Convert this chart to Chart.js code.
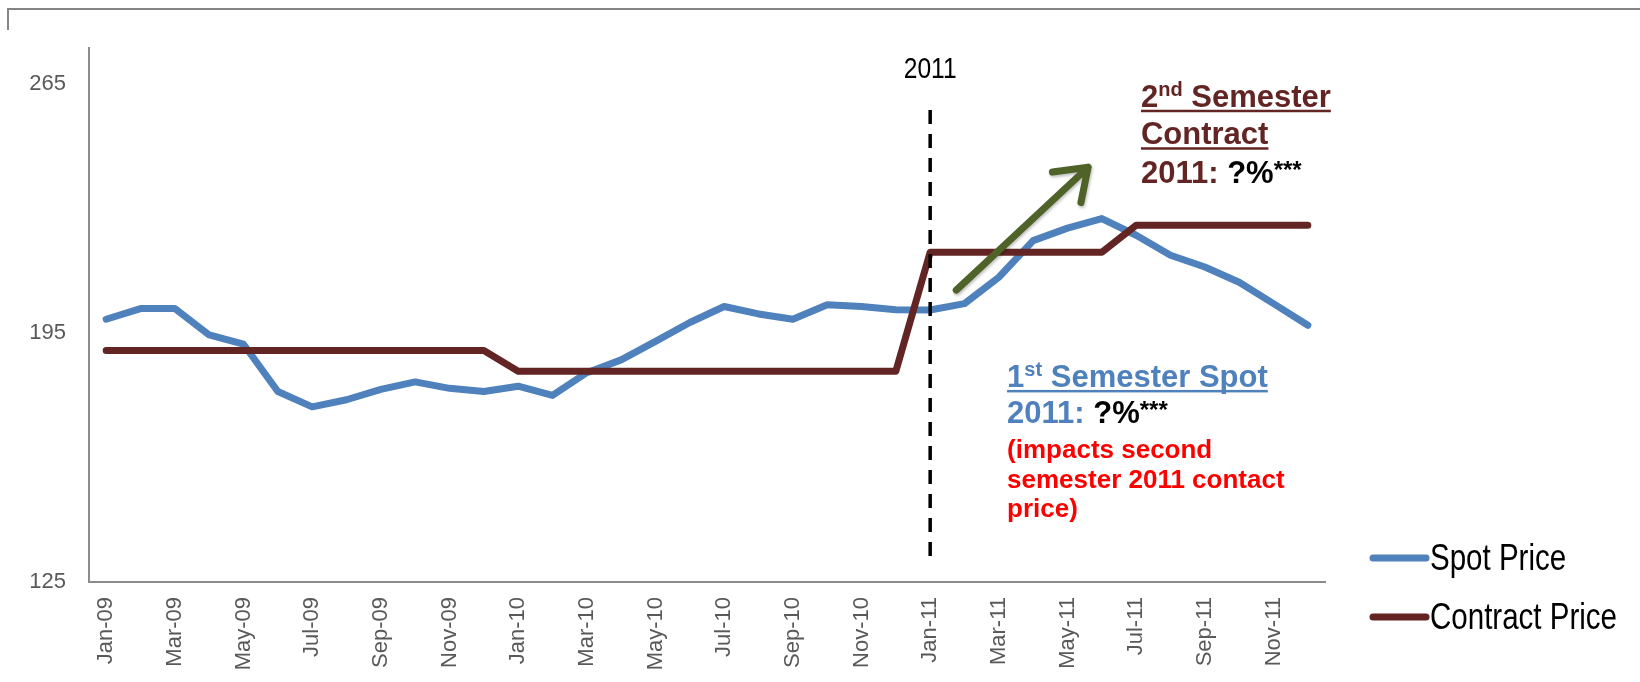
<!DOCTYPE html>
<html>
<head>
  <meta charset="utf-8">
  <title>Spot vs Contract Price</title>
  <script src="https://cdn.jsdelivr.net/npm/chart.js"></script>
  <style>
    body { margin: 0; background: #fff; }
    #wrap { position: relative; width: 1640px; height: 682px; }
    #frame { position: absolute; left: 7px; top: 8px; width: 1640px; height: 20px;
             border-top: 2px solid #858585; border-left: 2px solid #858585; }
    canvas { position: absolute; left: 0; top: 0; }
  </style>
</head>
<body>
<div id="wrap">
  <div id="frame"></div>
  <canvas id="priceChart" width="1640" height="682"></canvas>
</div>

<script>
const months = [
  "Jan-09", "Feb-09", "Mar-09", "Apr-09", "May-09", "Jun-09", "Jul-09", "Aug-09", "Sep-09", "Oct-09", "Nov-09", "Dec-09",
  "Jan-10", "Feb-10", "Mar-10", "Apr-10", "May-10", "Jun-10", "Jul-10", "Aug-10", "Sep-10", "Oct-10", "Nov-10", "Dec-10",
  "Jan-11", "Feb-11", "Mar-11", "Apr-11", "May-11", "Jun-11", "Jul-11", "Aug-11", "Sep-11", "Oct-11", "Nov-11", "Dec-11"
];
const spotPrice = [
  198.8, 201.8, 201.8, 194.4, 191.8, 178.5, 174.2, 176.2, 179.1, 181.2, 179.4, 178.5,
  180.0, 177.4, 183.8, 187.4, 192.6, 197.9, 202.4, 200.3, 198.8, 202.9, 202.4, 201.5,
  201.4, 203.2, 210.6, 220.9, 224.4, 227.1, 222.4, 216.8, 213.5, 209.2, 203.2, 197.1
];
const contractPrice = [
  190, 190, 190, 190, 190, 190, 190, 190, 190, 190, 190, 190,
  184.2, 184.2, 184.2, 184.2, 184.2, 184.2, 184.2, 184.2, 184.2, 184.2, 184.2, 184.2,
  217.6, 217.6, 217.6, 217.6, 217.6, 217.6, 225.2, 225.2, 225.2, 225.2, 225.2, 225.2
];
const yTicks = [125, 195, 265];

// annotation anchors: [category index, value]
const yearMark = { label: "2011", index: 24, top: 257.6, bottom: 129.5, labelAt: 266.6 };
const arrowFrom = [24.76, 207.0];
const arrowTo = [28.6, 241.5];
const contractNoteAt = [30.14, 258.5];
const spotNoteAt = [26.24, 179.8];

const BLUE = "#4F81BD", DARK = "#632523", GREEN = "#4F6228";
const SANS = '"Liberation Sans", Arial, sans-serif';
const NARROW = 0.82; // squeeze factor to imitate a narrow face

function drawRuns(ctx, runs, x, y, underline) {
  let cx = x;
  runs.forEach(r => {
    ctx.font = "bold " + r.size + "px " + SANS;
    ctx.fillStyle = r.color;
    ctx.fillText(r.text, cx, y + (r.dy || 0));
    cx += ctx.measureText(r.text).width;
  });
  if (underline) {
    ctx.fillStyle = underline;
    ctx.fillRect(x, y + 3, cx - x, 2.5);
  }
}

function narrowText(ctx, text, x, y, size, align) {
  ctx.save();
  ctx.font = size + "px " + SANS;
  ctx.textAlign = align;
  ctx.translate(x, y);
  ctx.scale(NARROW, 1);
  ctx.fillText(text, 0, 0);
  ctx.restore();
}

const notes = {
  id: "notes",
  afterDatasetsDraw(chart) {
    const { ctx, scales: { x, y }, chartArea } = chart;
    ctx.save();
    ctx.textBaseline = "alphabetic";
    ctx.textAlign = "left";

    // dashed 2011 marker
    const mx = x.getPixelForValue(yearMark.index);
    ctx.strokeStyle = "#000";
    ctx.lineWidth = 3.5;
    ctx.setLineDash([14, 10]);
    ctx.beginPath();
    ctx.moveTo(mx, y.getPixelForValue(yearMark.top));
    ctx.lineTo(mx, y.getPixelForValue(yearMark.bottom));
    ctx.stroke();
    ctx.setLineDash([]);
    ctx.fillStyle = "#000";
    narrowText(ctx, yearMark.label, mx, y.getPixelForValue(yearMark.labelAt), 30, "center");

    // green arrow
    const x0 = x.getPixelForValue(arrowFrom[0]), y0 = y.getPixelForValue(arrowFrom[1]);
    const x1 = x.getPixelForValue(arrowTo[0]), y1 = y.getPixelForValue(arrowTo[1]);
    const ang = Math.atan2(y1 - y0, x1 - x0);
    ctx.shadowColor = "rgba(0,0,0,0.25)";
    ctx.shadowBlur = 3;
    ctx.shadowOffsetX = 1;
    ctx.shadowOffsetY = 2;
    ctx.strokeStyle = GREEN;
    ctx.lineWidth = 7;
    ctx.lineCap = "round";
    ctx.lineJoin = "round";
    ctx.beginPath();
    ctx.moveTo(x0, y0);
    ctx.lineTo(x1, y1);
    ctx.moveTo(x1 - 36 * Math.cos(ang - 0.62), y1 - 36 * Math.sin(ang - 0.62));
    ctx.lineTo(x1, y1);
    ctx.lineTo(x1 - 36 * Math.cos(ang + 0.62), y1 - 36 * Math.sin(ang + 0.62));
    ctx.stroke();
    ctx.shadowColor = "transparent";

    // 2nd semester contract note
    let ax = x.getPixelForValue(contractNoteAt[0]), ay = y.getPixelForValue(contractNoteAt[1]);
    drawRuns(ctx, [
      { text: "2", size: 31, color: DARK },
      { text: "nd", size: 20, color: DARK, dy: -11 },
      { text: " Semester", size: 31, color: DARK }
    ], ax, ay, DARK);
    drawRuns(ctx, [{ text: "Contract", size: 31, color: DARK }], ax, ay + 37.5, DARK);
    drawRuns(ctx, [
      { text: "2011: ", size: 31, color: DARK },
      { text: "?%", size: 31, color: "#000" },
      { text: "***", size: 24, color: "#000", dy: -5 }
    ], ax, ay + 76, null);

    // 1st semester spot note
    ax = x.getPixelForValue(spotNoteAt[0]); ay = y.getPixelForValue(spotNoteAt[1]);
    drawRuns(ctx, [
      { text: "1", size: 31, color: BLUE },
      { text: "st", size: 20, color: BLUE, dy: -11 },
      { text: " Semester Spot", size: 31, color: BLUE }
    ], ax, ay, BLUE);
    drawRuns(ctx, [
      { text: "2011: ", size: 31, color: BLUE },
      { text: "?%", size: 31, color: "#000" },
      { text: "***", size: 24, color: "#000", dy: -5 }
    ], ax, ay + 36.5, null);
    ["(impacts second", "semester 2011 contact", "price)"].forEach((t, i) => {
      drawRuns(ctx, [{ text: t, size: 26, color: "#FF0000" }], ax, ay + 71.5 + i * 29.5, null);
    });

    // legend
    ctx.textBaseline = "middle";
    const lx = chartArea.right + 45;
    [[1, 558], [0, 617]].forEach(([di, ly]) => {
      const ds = chart.data.datasets[di];
      ctx.strokeStyle = ds.borderColor;
      ctx.lineWidth = 7;
      ctx.lineCap = "round";
      ctx.beginPath();
      ctx.moveTo(lx + 3, ly);
      ctx.lineTo(lx + 56, ly);
      ctx.stroke();
      ctx.fillStyle = "#000";
      narrowText(ctx, ds.label, lx + 60, ly + 2, 36, "left");
    });
    ctx.restore();
  }
};

new Chart(document.getElementById("priceChart"), {
  type: "line",
  data: {
    labels: months,
    datasets: [
      {
        label: "Contract Price",
        data: contractPrice,
        borderColor: DARK,
        backgroundColor: DARK,
        borderWidth: 7,
        pointRadius: 0,
        borderCapStyle: "round",
        borderJoinStyle: "round",
        order: 0
      },
      {
        label: "Spot Price",
        data: spotPrice,
        borderColor: BLUE,
        backgroundColor: BLUE,
        borderWidth: 7,
        pointRadius: 0,
        borderCapStyle: "round",
        borderJoinStyle: "round",
        order: 1
      }
    ]
  },
  options: {
    responsive: false,
    animation: false,
    devicePixelRatio: 1,
    layout: { padding: { top: 48, right: 315, left: 0, bottom: 0 } },
    plugins: { legend: { display: false }, tooltip: { enabled: false } },
    scales: {
      x: {
        offset: true,
        grid: { display: false, drawTicks: false },
        border: { color: "#8c8c8c", width: 2 },
        ticks: {
          autoSkip: false,
          maxRotation: 90,
          minRotation: 90,
          padding: 15,
          color: "#595959",
          font: { size: 22, family: SANS },
          callback: (v, i) => (i % 2 === 0 ? months[i] : null)
        },
        afterFit: s => { s.height = 100; }
      },
      y: {
        min: 125,
        max: 275,
        grid: { display: false, drawTicks: false },
        border: { color: "#8c8c8c", width: 2 },
        ticks: { padding: 23, color: "#595959", font: { size: 22, family: SANS } },
        afterBuildTicks: s => { s.ticks = yTicks.map(v => ({ value: v })); },
        afterFit: s => { s.width = 89; }
      }
    }
  },
  plugins: [notes]
});
</script>
</body>
</html>
